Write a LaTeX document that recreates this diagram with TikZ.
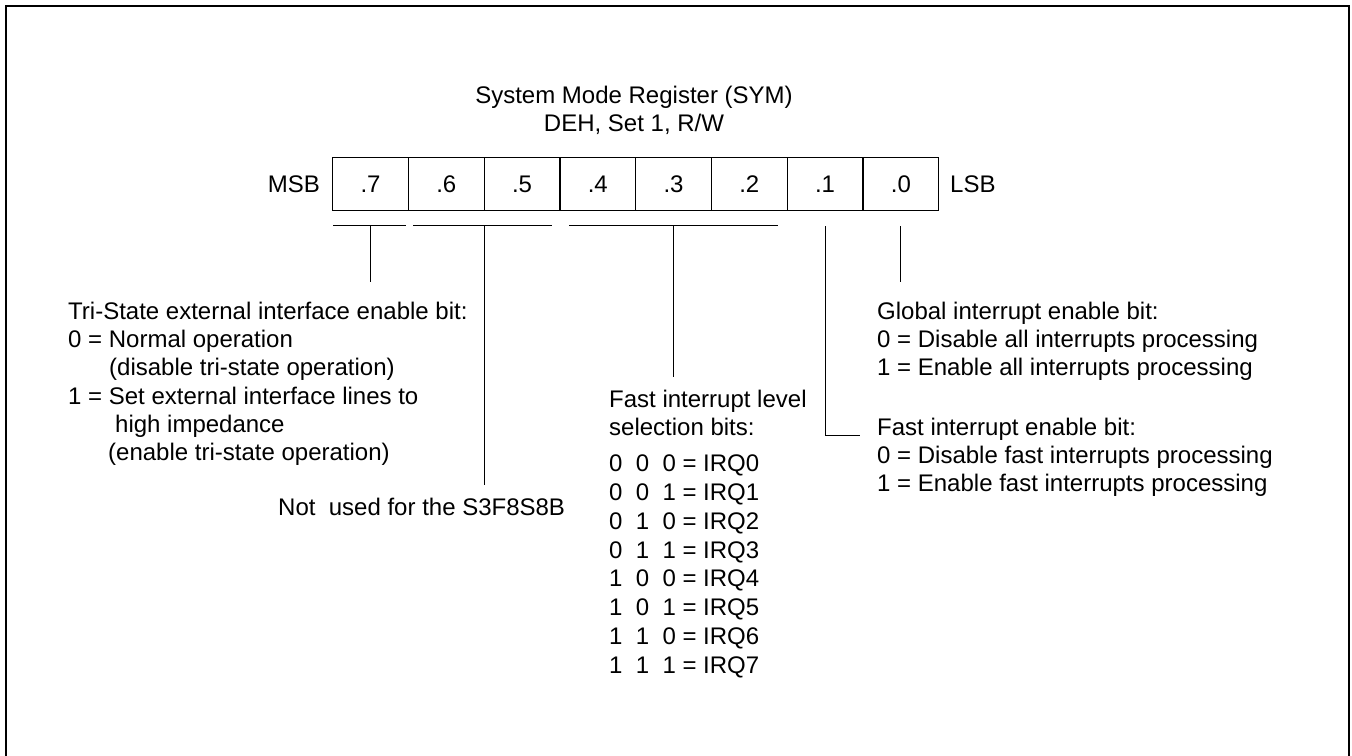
\documentclass[tikz,border=0pt]{standalone}
\usepackage{fontspec}
\setmainfont{Liberation Sans}
\begin{document}
\begin{tikzpicture}[x=1pt,y=-1pt,
  txt/.style={inner sep=0pt, anchor=base west, font=\fontsize{24}{28}\selectfont},
  cell/.style={draw, line width=1.4pt, minimum width=75.75pt, minimum height=53pt, inner sep=0pt, anchor=north west, font=\fontsize{24}{28}\selectfont},
  br/.style={line width=1pt},
  frame/.style={line width=2.2pt}]
\useasboundingbox (0,0) rectangle (1352,755);
\draw[frame] (6,760) -- (6,6) -- (1349,6) -- (1349,760);
% title
\node[txt, anchor=base] (t1) at (634,103.3) {System Mode Register (SYM)};
\node[txt, anchor=base] (t2) at (634,131.7) {DEH, Set 1, R/W};
% register
\foreach \b [count=\k from 0] in {7,...,0}
  \node[cell] (c\b) at ({332+75.75*\k},157) {.\b};
\node[txt, anchor=base east] (msb) at (320,192.7) {MSB};
\node[txt] (lsb) at (950,192.7) {LSB};
% bracket points
\path (c7.south) ++(0,15) coordinate (k7);
\path (c6.south east) ++(0,15) coordinate (k65);
\path (c3.south) ++(0,15) coordinate (k42);
\path (c1.south) ++(0,15) coordinate (k1);
\path (c0.south) ++(0,15) coordinate (k0);
\coordinate (e7) at (k7 |- 0,282);
\coordinate (e65) at (k65 |- 0,485);
\coordinate (e42) at (k42 |- 0,377);
\coordinate (e1) at (k1 |- 0,435);
\coordinate (e0) at (k0 |- 0,282);
\coordinate (f1) at (860,435);
% brackets
\draw[br] (333,225) -- (406,225);
\draw[br] (413,225) -- (552,225);
\draw[br] (569,225) -- (778,225);
\draw[br] (k7) -- (e7);
\draw[br] (k65) -- (e65);
\draw[br] (k42) -- (e42);
\draw[br] (k1) -- (e1) -- (f1);
\draw[br] (k0) -- (e0);
% left text
\node[txt] (a1) at (68,319.3) {Tri-State external interface enable bit:};
\node[txt] (a2) at (68,347.6) {0 = Normal operation};
\node[txt] (a3) at (109,375.9) {(disable tri-state operation)};
\node[txt] (a4) at (68,404.2) {1 = Set external interface lines to};
\node[txt] (a5) at (115,432.5) {high impedance};
\node[txt] (a6) at (108,460.8) {(enable tri-state operation)};
% not used
\node[txt] (nu) at (278,515) {Not\ \ used for the S3F8S8B};
% fast interrupt level
\node[txt] (fl1) at (609,407.3) {Fast interrupt level};
\node[txt] (fl2) at (609,435) {selection bits:};
\foreach \p/\q/\r [count=\i from 0] in {0/0/0,0/0/1,0/1/0,0/1/1,1/0/0,1/0/1,1/1/0,1/1/1}
  \node[txt] (irq\i) at (609,{471.7+28.8*\i}) {\p\ \ \q\ \ \r\ = IRQ\i};
% right text
\node[txt] (g1) at (877,319.3) {Global interrupt enable bit:};
\node[txt] (g2) at (877,347.6) {0 = Disable all interrupts processing};
\node[txt] (g3) at (877,375.9) {1 = Enable all interrupts processing};
\node[txt] (h1) at (877,435) {Fast interrupt enable bit:};
\node[txt] (h2) at (877,463.3) {0 = Disable fast interrupts processing};
\node[txt] (h3) at (877,491.6) {1 = Enable fast interrupts processing};
\end{tikzpicture}
\end{document}
